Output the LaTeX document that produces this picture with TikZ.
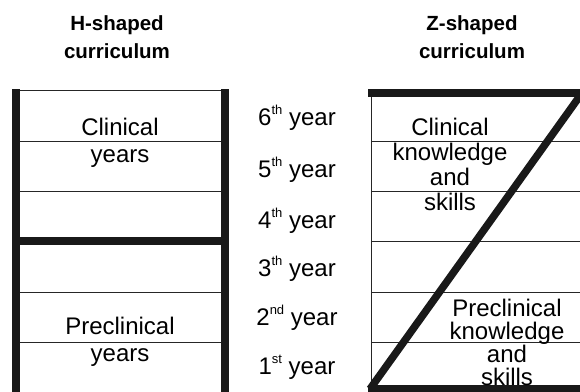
\documentclass[tikz,border=0pt]{standalone}
\usepackage{fontspec}
\setmainfont{Liberation Sans}
% small raised ordinal suffix
\newcommand{\ordsuf}[1]{\raisebox{0.42em}{\fontsize{13}{13}\selectfont #1}}
\begin{document}
\begin{tikzpicture}[
    x = 1pt,
    y = -1pt,
    bar/.style = {line width = 7.5pt, black!90},
    rule/.style = {line width = 0.9pt, black!85},
    heading/.style = {
        font = \fontsize{20.5}{28}\selectfont\bfseries,
        align = center,
        anchor = base,
        inner sep = 0pt
    },
    phase/.style = {
        font = \fontsize{24}{27}\selectfont,
        align = center,
        anchor = base,
        inner sep = 0pt
    },
    yearlabel/.style = {font = \fontsize{24}{27}\selectfont, anchor = base, inner sep = 0pt}
]
\useasboundingbox (0, 0) rectangle (580, 391);

% Headings (anchored on their last line)
\node[heading] (hhead) at (117, 58) {H-shaped\\curriculum};
\node[heading] (zhead) at (472, 58) {Z-shaped\\curriculum};

% H-shaped block: year rules
\draw[rule] (16, 90) -- (225, 90);
\foreach \y in {141, 191, 292, 342}
    \draw[rule] (16, \y) -- (225, \y);
% the two uprights and the crossbar
\draw[bar] (16, 89) -- (16, 395);
\draw[bar] (225, 89) -- (225, 395);
\draw[bar] (12, 241) -- (229, 241);

\node[phase] (clin) at (120, 162) {Clinical\\years};
\node[phase] (precl) at (120, 361) {Preclinical\\years};

% Years in the middle column
\node[yearlabel] (y6) at (297, 125) {6\ordsuf{th} year};
\node[yearlabel] (y5) at (297, 177) {5\ordsuf{th} year};
\node[yearlabel] (y4) at (297, 228) {4\ordsuf{th} year};
\node[yearlabel] (y3) at (297, 276) {3\ordsuf{th} year};
\node[yearlabel] (y2) at (297, 325) {2\ordsuf{nd} year};
\node[yearlabel] (y1) at (297, 374) {1\ordsuf{st} year};

% Z-shaped block: year rules and left side
\draw[rule] (371, 89) -- (371, 395);
\foreach \y in {141, 191, 241, 292, 342}
    \draw[rule] (371, \y) -- (585, \y);
% top, diagonal and bottom strokes of the Z
\draw[bar] (368, 93) -- (585, 93);
\draw[bar] (582, 93) -- (370, 389);
\draw[bar] (368, 389) -- (585, 389);

\node[phase, font = \fontsize{24}{25}\selectfont] (zclin) at (450, 210) {Clinical\\knowledge\\and\\skills};
\node[phase, font = \fontsize{24}{23}\selectfont] (zprecl) at (507, 385) {Preclinical\\knowledge\\and\\skills};

\end{tikzpicture}
\end{document}
